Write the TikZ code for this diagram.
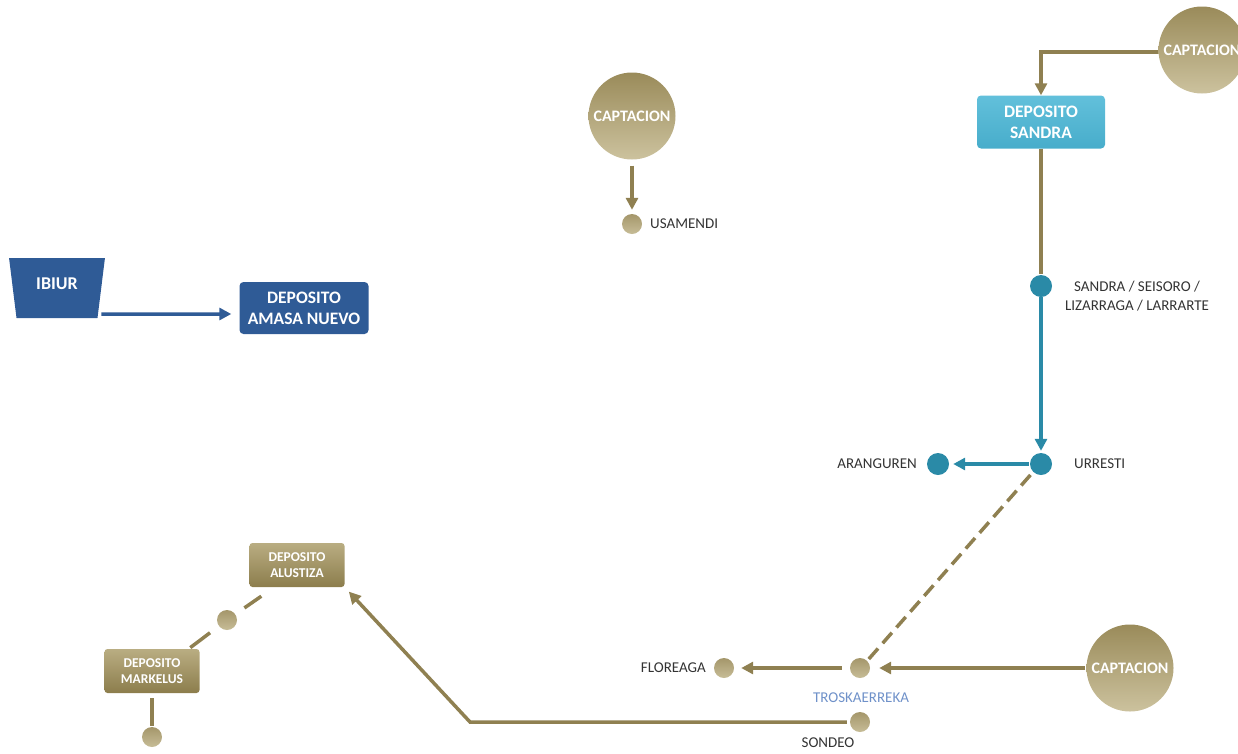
\documentclass[tikz,border=0pt]{standalone}
\usepackage{fontspec}
\setmainfont{Carlito}
\usetikzlibrary{arrows.meta,shapes.geometric,calc}
\definecolor{gold}{HTML}{8F8051}
\definecolor{goldTop}{HTML}{9A8B5A}
\definecolor{goldBot}{HTML}{CCC29E}
\definecolor{boxTop}{HTML}{B9AD82}
\definecolor{boxBot}{HTML}{8C7D4C}
\definecolor{navy}{HTML}{2F5B96}
\definecolor{sky}{HTML}{4DB3D1}
\definecolor{skyTop}{HTML}{62C0DB}
\definecolor{teal}{HTML}{2A8AA7}
\definecolor{lbl}{HTML}{333333}
\definecolor{trosk}{HTML}{6F91C9}
\tikzset{
  capt/.style={circle, minimum size=87pt, inner sep=0pt, top color=goldTop, bottom color=goldBot, draw=none, text=white, font=\bfseries\fontsize{16}{18}\selectfont},
  gdot/.style={circle, minimum size=20pt, inner sep=0pt, top color=goldTop!90, bottom color=goldBot!90!goldTop, draw=none},
  tdot/.style={circle, minimum size=22pt, inner sep=0pt, fill=teal, draw=none},
  navybox/.style={rectangle, rounded corners=4pt, fill=navy, text=white, align=center, minimum width=129pt, minimum height=52pt, font=\bfseries\fontsize{17.5}{21}\selectfont},
  skybox/.style={rectangle, rounded corners=4pt, top color=skyTop, bottom color=sky!85!teal, text=white, align=center, minimum width=128pt, minimum height=53pt, font=\bfseries\fontsize{17.5}{21}\selectfont},
  goldbox/.style={rectangle, rounded corners=3pt, top color=boxTop, bottom color=boxBot, text=white, align=center, minimum width=95pt, minimum height=44pt, font=\bfseries\fontsize{13.5}{16}\selectfont},
  lab/.style={text=lbl, font=\fontsize{15}{19}\selectfont, inner sep=0pt},
  gline/.style={draw=gold, line width=3.5pt},
  garrow/.style={gline, -{Triangle[length=12pt,width=12pt]}},
  tarrow/.style={draw=teal, line width=3.5pt, -{Triangle[length=12pt,width=12pt]}},
  narrow/.style={draw=navy, line width=3.5pt, -{Triangle[length=12pt,width=12pt]}},
}
\begin{document}
\begin{tikzpicture}[x=1pt,y=-1pt]
\useasboundingbox (0,0) rectangle (1238,753);
\clip (0,0) rectangle (1238,753);
% IBIUR branch
\node[trapezium, shape border rotate=180, trapezium stretches=true, minimum width=96pt, minimum height=60pt, trapezium angle=79, fill=navy, draw=none, text=white, inner sep=0pt, font=\bfseries\fontsize{18}{20}\selectfont] (ibiur) at (57,288) {\raisebox{8pt}{IBIUR}};
\node[navybox] (amasa) at (304,308) {DEPOSITO\\AMASA NUEVO};
\draw[narrow, shorten >=8pt] ([yshift=-26pt]ibiur.east) -- ([yshift=-6pt]amasa.west);
% Usamendi
\node[capt] (cap1) at (632,116) {CAPTACION};
\node[gdot] (usa) at (632,224) {};
\node[lab, anchor=west] (usal) at (650,224) {USAMENDI};
\draw[garrow, shorten <=6pt, shorten >=4pt] (cap1.south) -- (usa.north);
% Sandra
\node[capt] (cap2) at (1202,50) {CAPTACION};
\node[skybox] (sandra) at (1041,122) {DEPOSITO\\SANDRA};
\draw[garrow, rounded corners=0pt] ([yshift=-2pt]cap2.west) -| (sandra.north);
\node[tdot] (sdot) at (1041,286) {};
\draw[gline, shorten >=1pt] (sandra.south) -- (sdot.north);
\node[lab, align=center] (sandral) at (1137,296) {SANDRA / SEISORO /\\LIZARRAGA / LARRARTE};
\node[tdot] (urr) at (1041,464) {};
\node[lab, anchor=west] (urrl) at (1074,464) {URRESTI};
\draw[tarrow, shorten >=2pt] (sdot.south) -- (urr.north);
\node[tdot] (ara) at (938,464) {};
\node[lab, anchor=east] (aral) at (917,464) {ARANGUREN};
\draw[tarrow, shorten <=1pt, shorten >=4pt] (urr.west) -- (ara.east);
% Troskaerreka
\node[gdot] (tro) at (860,668) {};
\draw[gline, dash pattern=on 14pt off 7pt, shorten <=4pt, shorten >=2pt] (urr.south west) -- (tro.north east);
\node[lab, text=trosk] (trol) at (861,698) {TROSKAERREKA};
\node[capt] (cap3) at (1130,668) {CAPTACION};
\draw[garrow, shorten <=1pt, shorten >=9pt] (cap3.west) -- (tro.east);
\node[gdot] (flo) at (724,668) {};
\node[lab, anchor=east] (flol) at (706,668) {FLOREAGA};
\draw[garrow, shorten <=8pt, shorten >=7pt] (tro.west) -- (flo.east);
% Sondeo
\node[gdot] (son) at (860,722) {};
\node[lab] (sonl) at (828,743) {SONDEO};
\node[goldbox] (alu) at (297,565) {DEPOSITO\\ALUSTIZA};
\coordinate (bend) at (470,722);
\draw[garrow, line join=miter, shorten <=3pt, shorten >=6pt] (son.west) -- (bend) -- (alu.south east);
\node[gdot] (mdot) at (227,620) {};
\node[goldbox] (mark) at (152,671) {DEPOSITO\\MARKELUS};
\draw[gline, shorten >=11pt] ([shift={(12pt,-9pt)}]alu.south west) -- (mdot);
\draw[gline, shorten <=11pt, shorten >=2pt] (mdot) -- ([xshift=-11pt]mark.north east);
\node[gdot] (mbot) at (152,737) {};
\draw[gline, shorten <=5pt, shorten >=1pt] (mark.south) -- (mbot.north);
\end{tikzpicture}
\end{document}
